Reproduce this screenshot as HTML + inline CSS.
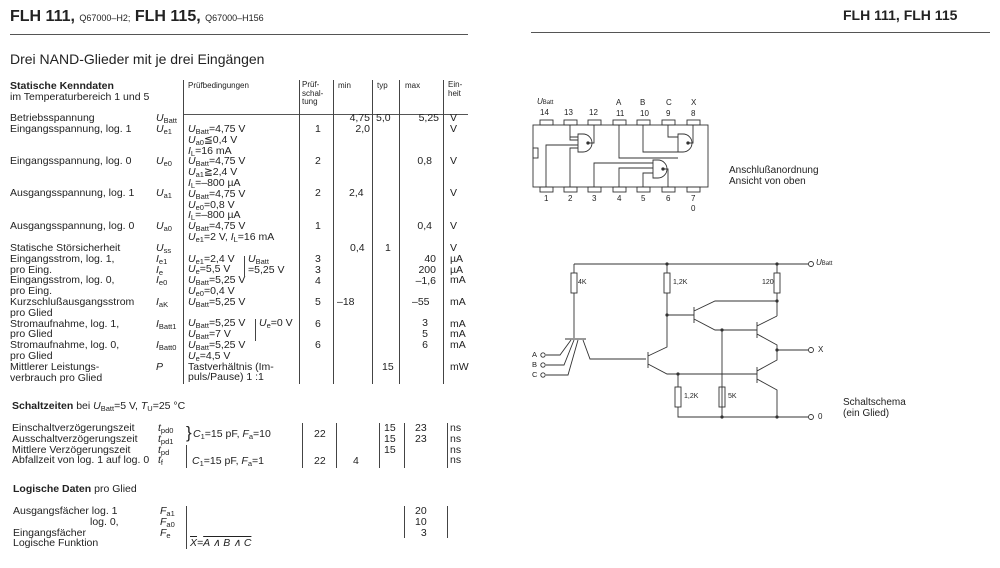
<!DOCTYPE html>
<html><head><meta charset="utf-8"><style>
body{margin:0;background:#fff;}
#p{position:relative;width:1000px;height:568px;overflow:hidden;font-family:"Liberation Sans",sans-serif;color:#222;}
.t{position:absolute;font-size:10.5px;line-height:10.8px;white-space:nowrap;}
.r{text-align:right;}
.s{font-size:7.5px;line-height:0;position:relative;top:2px;font-style:normal;}
i{font-style:italic;}
.v{position:absolute;width:1px;background:#444;}
.h{position:absolute;height:1px;background:#555;}
</style></head><body><div id="p">
<div class="t" style="left:10px;top:8px;font-size:16px;line-height:18px;font-weight:bold;">FLH 111, <span style="font-size:9px;font-weight:normal">Q67000–H2;</span> FLH 115, <span style="font-size:9px;font-weight:normal">Q67000–H156</span></div>
<div class="h" style="left:10px;top:34px;width:458px;"></div>
<div class="t" style="left:843px;top:7px;font-size:14px;line-height:16px;font-weight:bold;">FLH 111, FLH 115</div>
<div class="h" style="left:531px;top:32px;width:459px;"></div>
<div class="t" style="left:10px;top:51px;font-size:14px;line-height:16px;">Drei NAND-Glieder mit je drei Eingängen</div>

<div class="t" style="left:10px;top:81px;font-weight:bold;">Statische Kenndaten</div>
<div class="t" style="left:10px;top:92px;">im Temperaturbereich 1 und 5</div>
<div class="t" style="left:188px;top:81px;font-size:8px;">Prüfbedingungen</div>
<div class="t" style="left:302px;top:81px;font-size:8px;line-height:8.5px;">Prüf-<br>schal-<br>tung</div>
<div class="t" style="left:338px;top:81px;font-size:8px;">min</div>
<div class="t" style="left:377px;top:81px;font-size:8px;">typ</div>
<div class="t" style="left:405px;top:81px;font-size:8px;">max</div>
<div class="t" style="left:448px;top:81px;font-size:8px;line-height:8.5px;">Ein-<br>heit</div>
<div class="h" style="left:183px;top:114px;width:285px;"></div>
<div class="v" style="left:183px;top:80px;height:304px;"></div>
<div class="v" style="left:299px;top:80px;height:304px;"></div>
<div class="v" style="left:333px;top:80px;height:304px;"></div>
<div class="v" style="left:372px;top:80px;height:304px;"></div>
<div class="v" style="left:399px;top:80px;height:304px;"></div>
<div class="v" style="left:443px;top:80px;height:304px;"></div>

<div class="t" style="left:10px;top:113px;">Betriebsspannung<br>Eingangsspannung, log. 1</div>
<div class="t" style="left:10px;top:156px;">Eingangsspannung, log. 0</div>
<div class="t" style="left:10px;top:188px;">Ausgangsspannung, log. 1</div>
<div class="t" style="left:10px;top:221px;">Ausgangsspannung, log. 0</div>
<div class="t" style="left:10px;top:243px;">Statische Störsicherheit<br>Eingangsstrom, log. 1,<br>pro Eing.<br>Eingangsstrom, log. 0,<br>pro Eing.<br>Kurzschlußausgangsstrom<br>pro Glied<br>Stromaufnahme, log. 1,<br>pro Glied<br>Stromaufnahme, log. 0,<br>pro Glied<br>Mittlerer Leistungs-<br>verbrauch pro Glied</div>
<div class="t" style="left:156px;top:113px;"><i>U</i><span class="s">Batt</span><br><i>U</i><span class="s">e1</span></div>
<div class="t" style="left:156px;top:156px;"><i>U</i><span class="s">e0</span></div>
<div class="t" style="left:156px;top:188px;"><i>U</i><span class="s">a1</span></div>
<div class="t" style="left:156px;top:221px;"><i>U</i><span class="s">a0</span></div>
<div class="t" style="left:156px;top:243px;"><i>U</i><span class="s">ss</span><br><i>I</i><span class="s">e1</span><br><i>I</i><span class="s">e</span><br><i>I</i><span class="s">e0</span><br><br><i>I</i><span class="s">aK</span><br><br><i>I</i><span class="s">Batt1</span><br><br><i>I</i><span class="s">Batt0</span><br><br><i>P</i></div>
<div class="t" style="left:188px;top:124px;"><i>U</i><span class="s">Batt</span>=4,75 V<br><i>U</i><span class="s">a0</span>≦0,4 V<br><i>I</i><span class="s">L</span>=16 mA<br><i>U</i><span class="s">Batt</span>=4,75 V<br><i>U</i><span class="s">a1</span>≧2,4 V<br><i>I</i><span class="s">L</span>=–800 µA<br><i>U</i><span class="s">Batt</span>=4,75 V<br><i>U</i><span class="s">e0</span>=0,8 V<br><i>I</i><span class="s">L</span>=–800 µA<br><i>U</i><span class="s">Batt</span>=4,75 V<br><i>U</i><span class="s">e1</span>=2 V, <i>I</i><span class="s">L</span>=16 mA<br><br><i>U</i><span class="s">e1</span>=2,4 V<br><i>U</i><span class="s">e</span>=5,5 V<br><i>U</i><span class="s">Batt</span>=5,25 V<br><i>U</i><span class="s">e0</span>=0,4 V<br><i>U</i><span class="s">Batt</span>=5,25 V<br><br><i>U</i><span class="s">Batt</span>=5,25 V<br><i>U</i><span class="s">Batt</span>=7 V<br><i>U</i><span class="s">Batt</span>=5,25 V<br><i>U</i><span class="s">e</span>=4,5 V<br>Tastverhältnis (Im-<br>puls/Pause) 1 :1</div>
<div class="v" style="left:244px;top:256px;height:21px;"></div>
<div class="t" style="left:248px;top:254px;"><i>U</i><span class="s">Batt</span><br>=5,25 V</div>
<div class="v" style="left:255px;top:319px;height:22px;"></div>
<div class="t" style="left:259px;top:318px;"><i>U</i><span class="s">e</span>=0 V</div>
<div class="t" style="left:315px;top:124px;">1</div>
<div class="t" style="left:315px;top:156px;">2</div>
<div class="t" style="left:315px;top:188px;">2</div>
<div class="t" style="left:315px;top:221px;">1</div>
<div class="t" style="left:315px;top:254px;">3<br>3<br>4<br><br>5<br><br>6<br><br>6</div>
<div class="t r" style="left:330px;width:40px;top:113px;">4,75<br>2,0</div>
<div class="t" style="left:349px;top:188px;">2,4</div>
<div class="t" style="left:350px;top:243px;">0,4</div>
<div class="t" style="left:337px;top:297px;">–18</div>
<div class="t" style="left:376px;top:113px;">5,0</div>
<div class="t" style="left:385px;top:243px;">1</div>
<div class="t" style="left:382px;top:362px;">15</div>
<div class="t r" style="left:400px;width:39px;top:113px;">5,25</div>
<div class="t r" style="left:400px;width:32px;top:156px;">0,8</div>
<div class="t r" style="left:400px;width:32px;top:221px;">0,4</div>
<div class="t r" style="left:400px;width:36px;top:254px;">40<br>200<br>–1,6</div>
<div class="t" style="left:412px;top:297px;">–55</div>
<div class="t r" style="left:400px;width:28px;top:318px;">3<br>5<br>6</div>
<div class="t" style="left:450px;top:113px;">V<br>V</div>
<div class="t" style="left:450px;top:156px;">V</div>
<div class="t" style="left:450px;top:188px;">V</div>
<div class="t" style="left:450px;top:221px;">V</div>
<div class="t" style="left:450px;top:243px;">V<br>µA<br>µA<br>mA<br><br>mA<br><br>mA<br>mA<br>mA<br><br>mW</div>

<div class="t" style="left:12px;top:401px;"><b>Schaltzeiten</b> bei <i>U</i><span class="s">Batt</span>=5 V, <i>T</i><span class="s">U</span>=25 °C</div>
<div class="t" style="left:12px;top:423px;">Einschaltverzögerungszeit<br>Ausschaltverzögerungszeit<br>Mittlere Verzögerungszeit<br>Abfallzeit von log. 1 auf log. 0</div>
<div class="t" style="left:158px;top:423px;"><i>t</i><span class="s">pd0</span><br><i>t</i><span class="s">pd1</span><br><i>t</i><span class="s">pd</span><br><i>t</i><span class="s">f</span></div>
<div class="t" style="left:186px;top:424px;font-size:17px;line-height:18px;">}</div>
<div class="t" style="left:193px;top:429px;"><i>C</i><span class="s">1</span>=15 pF, <i>F</i><span class="s">a</span>=10</div>
<div class="t" style="left:192px;top:456px;"><i>C</i><span class="s">1</span>=15 pF, <i>F</i><span class="s">a</span>=1</div>
<div class="v" style="left:186px;top:445px;height:23px;"></div>
<div class="v" style="left:302px;top:423px;height:45px;"></div>
<div class="v" style="left:336px;top:423px;height:45px;"></div>
<div class="v" style="left:379px;top:423px;height:45px;"></div>
<div class="v" style="left:404px;top:423px;height:45px;"></div>
<div class="v" style="left:447px;top:423px;height:45px;"></div>
<div class="t" style="left:314px;top:429px;">22</div>
<div class="t" style="left:314px;top:456px;">22</div>
<div class="t" style="left:353px;top:456px;">4</div>
<div class="t" style="left:384px;top:423px;">15<br>15<br>15</div>
<div class="t" style="left:415px;top:423px;">23<br>23</div>
<div class="t" style="left:450px;top:423px;">ns<br>ns<br>ns<br>ns</div>

<div class="t" style="left:13px;top:484px;"><b>Logische Daten</b> pro Glied</div>
<div class="t" style="left:13px;top:506px;">Ausgangsfächer log. 1<br><span style="padding-left:77px">log. 0,</span><br>Eingangsfächer<br>Logische Funktion</div>
<div class="t" style="left:160px;top:506px;"><i>F</i><span class="s">a1</span><br><i>F</i><span class="s">a0</span><br><i>F</i><span class="s">e</span></div>
<div class="v" style="left:186px;top:506px;height:43px;"></div>
<div class="v" style="left:404px;top:506px;height:32px;"></div>
<div class="v" style="left:447px;top:506px;height:32px;"></div>
<div class="t" style="left:415px;top:506px;">20<br>10<br>&nbsp;&nbsp;3</div>
<div class="t" style="left:190px;top:538px;"><i><span style="text-decoration:overline">X</span>=<span style="text-decoration:overline">A ∧ B ∧ C</span></i></div>

<svg style="position:absolute;left:0;top:0" width="1000" height="568" fill="none" stroke="#333" stroke-width="0.9">
<rect x="533" y="125" width="175" height="62"/>
<rect x="533" y="148" width="5" height="10"/>
<g>
<rect x="540" y="120" width="13" height="5"/><rect x="564" y="120" width="13" height="5"/><rect x="588" y="120" width="13" height="5"/><rect x="613" y="120" width="13" height="5"/><rect x="637" y="120" width="13" height="5"/><rect x="662" y="120" width="13" height="5"/><rect x="687" y="120" width="13" height="5"/>
<rect x="540" y="187" width="13" height="5"/><rect x="564" y="187" width="13" height="5"/><rect x="588" y="187" width="13" height="5"/><rect x="613" y="187" width="13" height="5"/><rect x="637" y="187" width="13" height="5"/><rect x="662" y="187" width="13" height="5"/><rect x="687" y="187" width="13" height="5"/>
</g>
<path d="M578 134 h5 a9 9 0 0 1 0 18 h-5 z"/><circle cx="588" cy="143" r="1.2" fill="#333"/>
<path d="M570 125 v12 h8 M594 125 v18 h-6 M578 148 h-8 v39 M578 140 h-8 v-3 M578 145 h-32 v42"/>
<path d="M678 134 h5 a9 9 0 0 1 0 18 h-5 z"/><circle cx="688" cy="143" r="1.2" fill="#333"/>
<path d="M619 125 v33 h59 M643 125 v27 h35 M668 125 v12 h10 M693 125 v18 h-5"/>
<path d="M653 160 h5 a9 9 0 0 1 0 18 h-5 z"/><circle cx="663" cy="169" r="1.2" fill="#333"/>
<path d="M653 163 h-59 v24 M653 168 h-34 v19 M653 173 h-10 v14 M663 169 h5 v18"/>
<path d="M574 264 H808 M574 264 v9 M574 293 V338 M565 339 H586"/>
<rect x="571" y="273" width="6" height="20"/>
<circle cx="811" cy="264" r="2.5"/>
<path d="M546 355 h14 l11 -15 M546 365 h18 l10 -25 M546 375 h22 l10 -35"/>
<circle cx="543" cy="355" r="2.2"/><circle cx="543" cy="365" r="2.2"/><circle cx="543" cy="375" r="2.2"/>
<path d="M583 340 l7 19 h56"/>
<path d="M648 352 v16 M648 356 l19 -9 V293 M667 273 V264 M648 364 l19 10 H757"/>
<rect x="664" y="273" width="6" height="20"/>
<path d="M667 315 H694 M694 307 v16 M694 311 l21 -10 H777 M694 319 l21 11 H757"/>
<path d="M722 330 V417 M678 374 V387 M678 407 V417 H808"/>
<rect x="675" y="387" width="6" height="20"/><rect x="719" y="387" width="6" height="20"/>
<path d="M777 264 v9 M777 293 V316 M757 322 v16 M757 326 l20 -10 M757 334 l20 11 V350 H808"/>
<rect x="774" y="273" width="6" height="20"/>
<path d="M757 367 v16 M757 371 l20 -11 V350 M757 379 l20 11 V417"/>
<circle cx="811" cy="350" r="2.5"/><circle cx="811" cy="417" r="2.5"/>
<g fill="#333" stroke="none">
<circle cx="667" cy="264" r="1.6"/><circle cx="777" cy="264" r="1.6"/><circle cx="667" cy="315" r="1.6"/><circle cx="777" cy="301" r="1.6"/><circle cx="722" cy="330" r="1.6"/><circle cx="678" cy="374" r="1.6"/><circle cx="777" cy="350" r="1.6"/><circle cx="722" cy="417" r="1.6"/><circle cx="777" cy="417" r="1.6"/>
</g>
</svg>
<div class="t" style="left:537px;top:97px;font-size:8px;"><i>U</i><span style="font-size:6px">Batt</span></div>
<div class="t" style="left:540px;top:108px;font-size:8px;">14</div>
<div class="t" style="left:564px;top:108px;font-size:8px;">13</div>
<div class="t" style="left:589px;top:108px;font-size:8px;">12</div>
<div class="t" style="left:616px;top:97px;font-size:8px;line-height:11px;">A<br>11</div>
<div class="t" style="left:640px;top:97px;font-size:8px;line-height:11px;">B<br>10</div>
<div class="t" style="left:666px;top:97px;font-size:8px;line-height:11px;">C<br>9</div>
<div class="t" style="left:691px;top:97px;font-size:8px;line-height:11px;">X<br>8</div>
<div class="t" style="left:544px;top:194px;font-size:8px;">1</div>
<div class="t" style="left:568px;top:194px;font-size:8px;">2</div>
<div class="t" style="left:592px;top:194px;font-size:8px;">3</div>
<div class="t" style="left:617px;top:194px;font-size:8px;">4</div>
<div class="t" style="left:641px;top:194px;font-size:8px;">5</div>
<div class="t" style="left:666px;top:194px;font-size:8px;">6</div>
<div class="t" style="left:691px;top:194px;font-size:8px;line-height:10px;">7<br>0</div>
<div class="t" style="left:729px;top:166px;font-size:10px;">Anschlußanordnung<br>Ansicht von oben</div>
<div class="t" style="left:578px;top:278px;font-size:7px;">4K</div>
<div class="t" style="left:673px;top:278px;font-size:7px;">1,2K</div>
<div class="t" style="left:762px;top:278px;font-size:7px;">120</div>
<div class="t" style="left:684px;top:392px;font-size:7px;">1,2K</div>
<div class="t" style="left:728px;top:392px;font-size:7px;">5K</div>
<div class="t" style="left:532px;top:350px;font-size:7.5px;line-height:10px;">A<br>B<br>C</div>
<div class="t" style="left:816px;top:258px;font-size:8px;"><i>U</i><span style="font-size:6px">Batt</span></div>
<div class="t" style="left:818px;top:345px;font-size:8px;">X</div>
<div class="t" style="left:818px;top:412px;font-size:8px;">0</div>
<div class="t" style="left:843px;top:398px;font-size:10px;">Schaltschema<br>(ein Glied)</div>
</div></body></html>
